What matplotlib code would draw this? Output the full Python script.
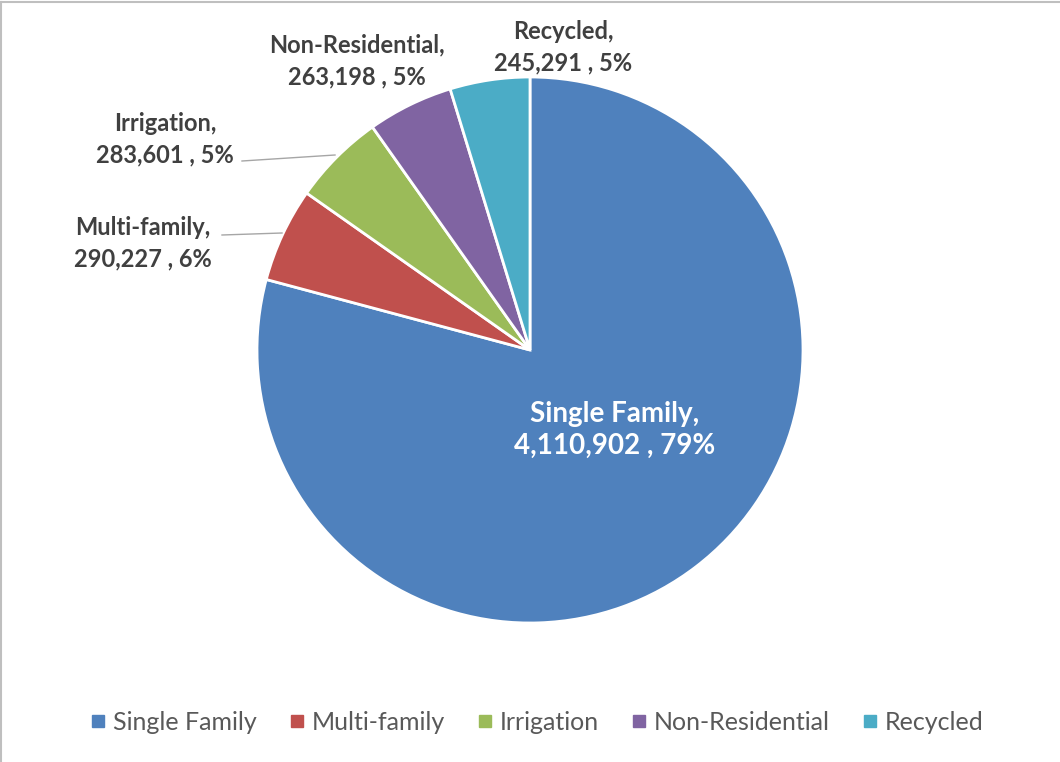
import numpy as np
import matplotlib.pyplot as plt
from matplotlib.lines import Line2D

categories = ["Single Family", "Multi-family", "Irrigation", "Non-Residential", "Recycled"]
values = [4110902, 290227, 283601, 263198, 245291]
colors = ["#4F81BD", "#C0504D", "#9BBB59", "#8064A2", "#4BACC6"]

plt.rcParams["font.family"] = ["Lato", "DejaVu Sans"]

W, H = 1060, 762
cx, cy, r = 530, 350, 273  # pie centre / radius in pixels

fig = plt.figure(figsize=(W / 100, H / 100), dpi=100)
ax = fig.add_axes([(cx - r) / W, (H - cy - r) / H, 2 * r / W, 2 * r / H])
wedges, _ = ax.pie(values, colors=colors, startangle=90, counterclock=False, radius=1,
                   wedgeprops=dict(edgecolor="white", linewidth=2))
ax.set_xlim(-1, 1)
ax.set_ylim(-1, 1)
ax.axis("off")

def px(x, y):
    # pixel position -> data coords of the pie axes
    return (x - cx) / r, (cy - y) / r

total = sum(values)
labels = [f"{c},\n{v:,} , {round(100 * v / total)}%" for c, v in zip(categories, values)]

# label centres (pixels)
label_pos = [(615, 430), (143, 243), (165, 139), (357, 61), (563, 47)]
for i, (lab, (x, y)) in enumerate(zip(labels, label_pos)):
    xd, yd = px(x, y)
    if i == 0:
        ax.text(xd, yd, lab, ha="center", va="center", color="white", fontsize=20,
                fontweight="bold", linespacing=1.25)
    else:
        ax.text(xd, yd, lab, ha="center", va="center", color="#404040", fontsize=17,
                fontweight="bold", linespacing=1.45, clip_on=False)

# leader lines
for (x0, y0), (x1, y1) in [((222, 235), (282, 233)), ((242, 161), (335, 155))]:
    a, b = px(x0, y0)
    c, d = px(x1, y1)
    ax.plot([a, c], [b, d], color="#A6A6A6", linewidth=1, clip_on=False)

handles = [Line2D([], [], marker="s", linestyle="", markersize=8, markerfacecolor=c,
                  markeredgecolor=c) for c in colors]
fig.legend(handles, categories, loc="center", bbox_to_anchor=(537 / W, 1 - 722 / H), ncol=5,
           frameon=False, fontsize=18, labelcolor="#595959", handlelength=0.6,
           handletextpad=0.3, columnspacing=1.3)

# chart area border (left and top edges visible)
fig.add_artist(Line2D([1 / W, 1 / W], [0, 1 - 2 / H], color="#BFBFBF", linewidth=1.5))
fig.add_artist(Line2D([1 / W, 1], [1 - 2 / H, 1 - 2 / H], color="#BFBFBF", linewidth=1.5))

fig.savefig("out.png", dpi=100)
